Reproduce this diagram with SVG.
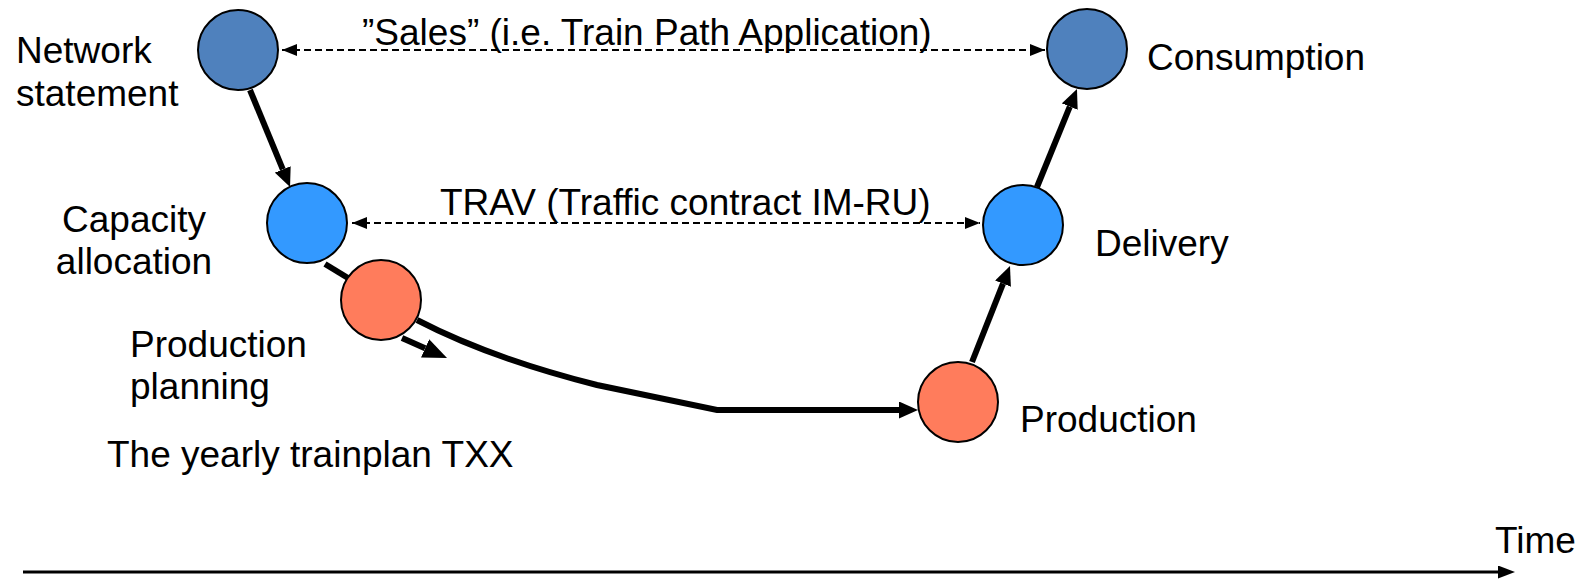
<svg xmlns="http://www.w3.org/2000/svg" width="1586" height="579" viewBox="0 0 1586 579">
<style>
  text { font-family: "Liberation Sans", Arial, sans-serif; font-size: 37px; fill: #000; }
  .node { stroke: #000; stroke-width: 2; }
  .dark { fill: #4F81BD; }
  .light { fill: #3399FF; }
  .orange { fill: #FF7C5C; }
  .thick { stroke: #000; stroke-width: 6; fill: none; }
  .dash { stroke: #000; stroke-width: 2; stroke-dasharray: 7 4; fill: none; }
  .axis { stroke: #000; stroke-width: 3; fill: none; }
</style>
<defs>
  <marker id="head" viewBox="0 0 19 17" refX="0" refY="8.5" markerWidth="19" markerHeight="17" markerUnits="userSpaceOnUse" orient="auto">
    <path d="M0,0 L19,8.5 L0,17 z" fill="#000"/>
  </marker>
  <marker id="headL" viewBox="0 0 24 20" refX="0" refY="10" markerWidth="24" markerHeight="20" markerUnits="userSpaceOnUse" orient="auto">
    <path d="M0,0 L24,10 L0,20 z" fill="#000"/>
  </marker>
  <marker id="small" viewBox="0 0 15 12" refX="15" refY="6" markerWidth="15" markerHeight="12" markerUnits="userSpaceOnUse" orient="auto-start-reverse">
    <path d="M0,0 L15,6 L0,12 z" fill="#000"/>
  </marker>
  <marker id="axisHead" viewBox="0 0 17 13" refX="0" refY="6.5" markerWidth="17" markerHeight="13" markerUnits="userSpaceOnUse" orient="auto">
    <path d="M0,0 L17,6.5 L0,13 z" fill="#000"/>
  </marker>
</defs>

<g id="connectors">
  <line class="thick" x1="250" y1="90" x2="282.8" y2="169.4" marker-end="url(#head)"/>
  <line class="thick" x1="325" y1="264" x2="348" y2="278"/>
  <line class="thick" x1="402" y1="338" x2="425.1" y2="348.3" marker-end="url(#headL)"/>
  <path class="thick" d="M417,320 Q490,358 597,385 L717,410 L899,410" marker-end="url(#head)"/>
  <line class="thick" x1="972" y1="362" x2="1003" y2="283.7" marker-end="url(#head)"/>
  <line class="thick" x1="1037" y1="187" x2="1069.8" y2="106.6" marker-end="url(#head)"/>
  <line class="dash" x1="282" y1="50" x2="1045" y2="50" marker-start="url(#small)" marker-end="url(#small)"/>
  <line class="dash" x1="352" y1="223" x2="980" y2="223" marker-start="url(#small)" marker-end="url(#small)"/>
  <line class="axis" x1="23" y1="572" x2="1498" y2="572" marker-end="url(#axisHead)"/>
</g>

<g id="network-statement">
  <circle class="node dark" cx="238" cy="50" r="40"/>
  <text x="16" y="63">Network</text>
  <text x="16" y="106">statement</text>
</g>
<g id="capacity-allocation">
  <circle class="node light" cx="307" cy="223" r="40"/>
  <text x="134" y="232" text-anchor="middle">Capacity</text>
  <text x="134" y="274" text-anchor="middle">allocation</text>
</g>
<g id="production-planning">
  <circle class="node orange" cx="381" cy="300" r="40"/>
  <text x="130" y="357">Production</text>
  <text x="130" y="399">planning</text>
  <text x="107" y="467">The yearly trainplan TXX</text>
</g>
<g id="production">
  <circle class="node orange" cx="958" cy="402" r="40"/>
  <text x="1020" y="432">Production</text>
</g>
<g id="delivery">
  <circle class="node light" cx="1023" cy="225" r="40"/>
  <text x="1095" y="256">Delivery</text>
</g>
<g id="consumption">
  <circle class="node dark" cx="1087" cy="49" r="40"/>
  <text x="1147" y="70">Consumption</text>
</g>
<g id="labels">
  <text x="362" y="45">”Sales” (i.e. Train Path Application)</text>
  <text x="440" y="215">TRAV (Traffic contract IM-RU)</text>
  <text x="1495" y="553">Time</text>
</g>
</svg>
